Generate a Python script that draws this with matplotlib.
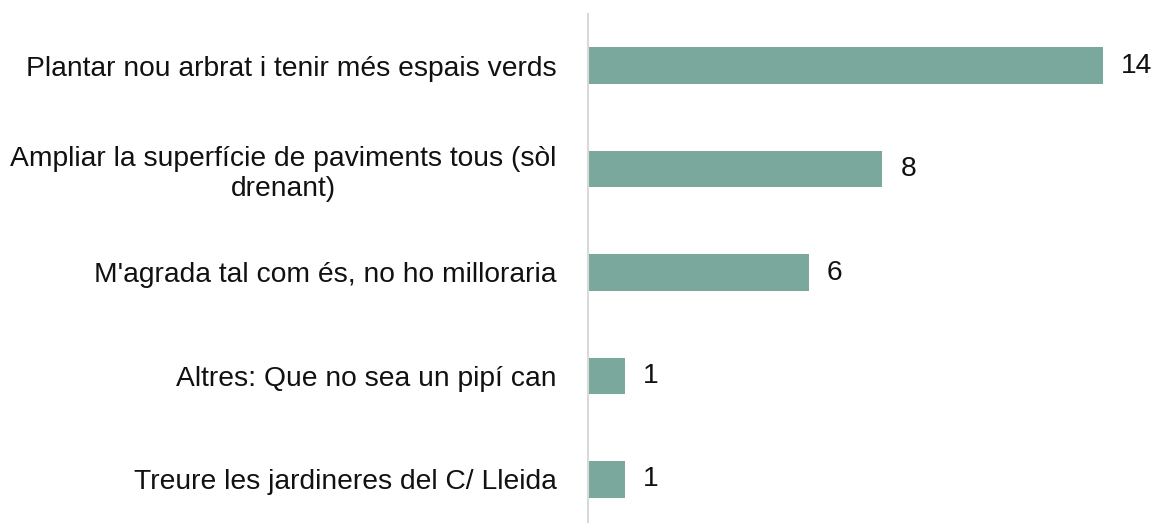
import matplotlib
matplotlib.use("Agg")
import matplotlib.pyplot as plt

categories = [
    "Plantar nou arbrat i tenir més espais verds",
    "Ampliar la superfície de paviments tous (sòl\ndrenant)",
    "M'agrada tal com és, no ho milloraria",
    "Altres: Que no sea un pipí can",
    "Treure les jardineres del C/ Lleida",
]
values = [14, 8, 6, 1, 1]

plt.rcParams['font.family'] = ['Liberation Sans', 'DejaVu Sans']

W, H = 1154, 523
fig = plt.figure(figsize=(W / 100, H / 100), dpi=100)
ax_left = 588 / W
ax_right = 1140 / W
ax_top = 1 - 14 / H
ax_bottom = -8 / H
ax = fig.add_axes([ax_left, ax_bottom, ax_right - ax_left, ax_top - ax_bottom])

ypos = list(range(len(categories)))
ax.barh(ypos, values, height=0.355, color='#7BA89D', zorder=2)
ax.set_ylim(len(categories) - 0.5, -0.5)
ax.set_xlim(0, 15.0)

for y, v in zip(ypos, values):
    ax.text(v + 0.49, y, str(v), va='center', ha='left', fontsize=20.3, color='#111111')

ax.set_yticks(ypos)
ax.set_yticklabels(categories, fontsize=20.3, color='#111111', multialignment='center')
ax.tick_params(axis='y', length=0, pad=22.5)
ax.set_xticks([])
for s in ['top', 'right', 'bottom']:
    ax.spines[s].set_visible(False)
ax.spines['left'].set_color('#D9D9D9')
ax.spines['left'].set_linewidth(1.5)

fig.savefig('out.png', dpi=100)
